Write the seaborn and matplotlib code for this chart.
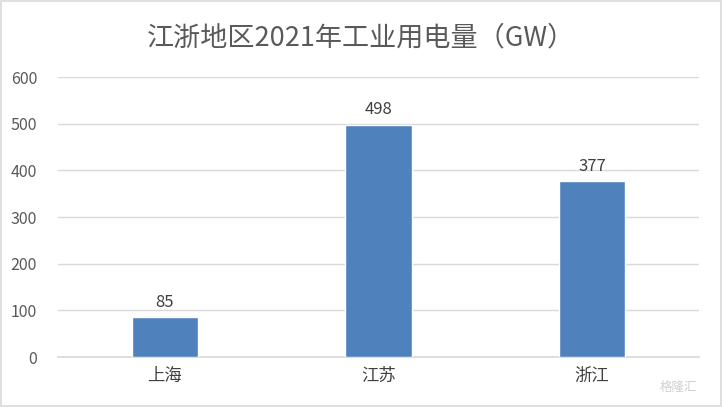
import matplotlib
matplotlib.use("Agg")
import matplotlib.pyplot as plt
import seaborn as sns
import pandas as pd
from matplotlib.patches import Rectangle

regions = ["上海", "江苏", "浙江"]
power_gw = [85, 498, 377]
title = "江浙地区2021年工业用电量（GW）"

sns.set_theme(style="white")
plt.rcParams['font.family'] = ['Noto Sans CJK SC', 'DejaVu Sans']

df = pd.DataFrame({"region": regions, "gw": power_gw})

fig = plt.figure(figsize=(7.22, 4.07), dpi=100)
ax = fig.add_axes([58 / 722, 1 - 357 / 407, 641 / 722, 280 / 407])

sns.barplot(data=df, x="region", y="gw", color="#4F81BD", saturation=1,
            width=0.31, ax=ax, zorder=3)

ax.set_ylim(0, 600)
ax.set_yticks(range(0, 601, 100))
ax.grid(axis="y", color="#D9D9D9", linewidth=1, zorder=0)
ax.set_xlabel("")
ax.set_ylabel("")
for s in ["top", "right", "left"]:
    ax.spines[s].set_visible(False)
ax.spines["bottom"].set_color("#D9D9D9")
ax.tick_params(axis="y", colors="#595959", labelsize=11.5, length=0, pad=15)
ax.tick_params(axis="x", colors="#404040", labelsize=12.5, length=0, pad=7)

for i, v in enumerate(power_gw):
    ax.text(i, v + 14, str(v), ha="center", va="bottom", fontsize=12, color="#404040")

fig.text(361 / 722, 1 - 38 / 407, title, ha="center", va="center",
         fontsize=19.5, color="#595959")

fig.text(0.965, 1 - 387 / 407, "格隆汇", ha="right", va="center",
         fontsize=9, color="#D0D0D0")

fig.patches.append(Rectangle((0.002, 0.003), 0.996, 0.994, transform=fig.transFigure,
                             fill=False, edgecolor="#D9D9D9", linewidth=1.2))

fig.savefig("out.png", dpi=100, facecolor="white")
